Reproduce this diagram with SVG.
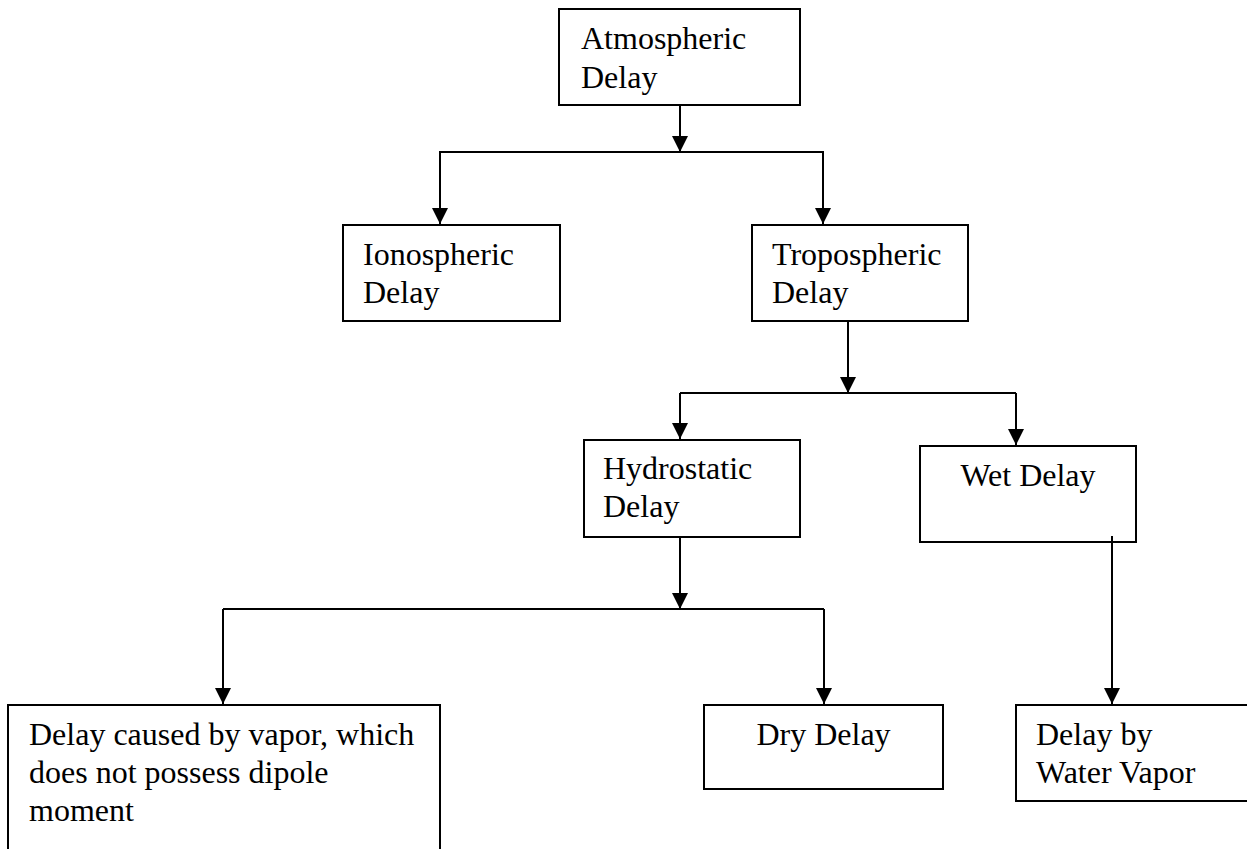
<svg xmlns="http://www.w3.org/2000/svg" width="1247" height="849" viewBox="0 0 1247 849">
<style>
.box{fill:#fff;stroke:#000;stroke-width:2}
.t{font-family:"Liberation Serif","Times New Roman",serif;font-size:32px;fill:#000}
.c{text-anchor:middle}
.ln{fill:none;stroke:#000;stroke-width:2}
</style>
<defs>
<marker id="ah" markerUnits="userSpaceOnUse" markerWidth="18" markerHeight="16" refX="16" refY="8" orient="auto">
<path d="M0,0 L16,8 L0,16 Z" fill="#000"/>
</marker>
</defs>
<rect width="1247" height="849" fill="#fff"/>
<g id="connectors">
<path class="ln" d="M680,105 V152" marker-end="url(#ah)"/>
<path class="ln" d="M440,225 V152 H823 V225" />
<path class="ln" d="M440,152 V224" marker-end="url(#ah)"/>
<path class="ln" d="M823,152 V224" marker-end="url(#ah)"/>
<path class="ln" d="M848,321 V393" marker-end="url(#ah)"/>
<path class="ln" d="M680,393 H1016"/>
<path class="ln" d="M680,393 V439" marker-end="url(#ah)"/>
<path class="ln" d="M1016,393 V445" marker-end="url(#ah)"/>
<path class="ln" d="M680,537 V609" marker-end="url(#ah)"/>
<path class="ln" d="M223,609 H824"/>
<path class="ln" d="M223,609 V704" marker-end="url(#ah)"/>
<path class="ln" d="M824,609 V704" marker-end="url(#ah)"/>
</g>
<g id="n-atmospheric"><rect class="box" x="559" y="9" width="241" height="96"/>
<text class="t" x="581" y="49">Atmospheric</text><text class="t" x="581" y="88">Delay</text></g>
<g id="n-ionospheric"><rect class="box" x="343" y="225" width="217" height="96"/>
<text class="t" x="363" y="265">Ionospheric</text><text class="t" x="363" y="303">Delay</text></g>
<g id="n-tropospheric"><rect class="box" x="752" y="225" width="216" height="96"/>
<text class="t" x="772" y="265">Tropospheric</text><text class="t" x="772" y="303">Delay</text></g>
<g id="n-hydrostatic"><rect class="box" x="584" y="440" width="216" height="97"/>
<text class="t" x="603" y="479">Hydrostatic</text><text class="t" x="603" y="517">Delay</text></g>
<g id="n-wet"><rect class="box" x="920" y="446" width="216" height="96"/>
<text class="t c" x="1028" y="486">Wet Delay</text></g>
<g id="n-vapor-nodipole"><rect class="box" x="8" y="705" width="432" height="160"/>
<text class="t" x="29" y="745">Delay caused by vapor, which</text><text class="t" x="29" y="783">does not possess dipole</text><text class="t" x="29" y="821">moment</text></g>
<g id="n-dry"><rect class="box" x="704" y="705" width="239" height="84"/>
<text class="t c" x="823.5" y="745">Dry Delay</text></g>
<g id="n-water"><rect class="box" x="1016" y="705" width="240" height="96"/>
<text class="t" x="1036" y="745">Delay by</text><text class="t" x="1036" y="783">Water Vapor</text></g>
<g id="connectors-2">
<path class="ln" d="M1112,536 V704" marker-end="url(#ah)"/>
</g>
</svg>
